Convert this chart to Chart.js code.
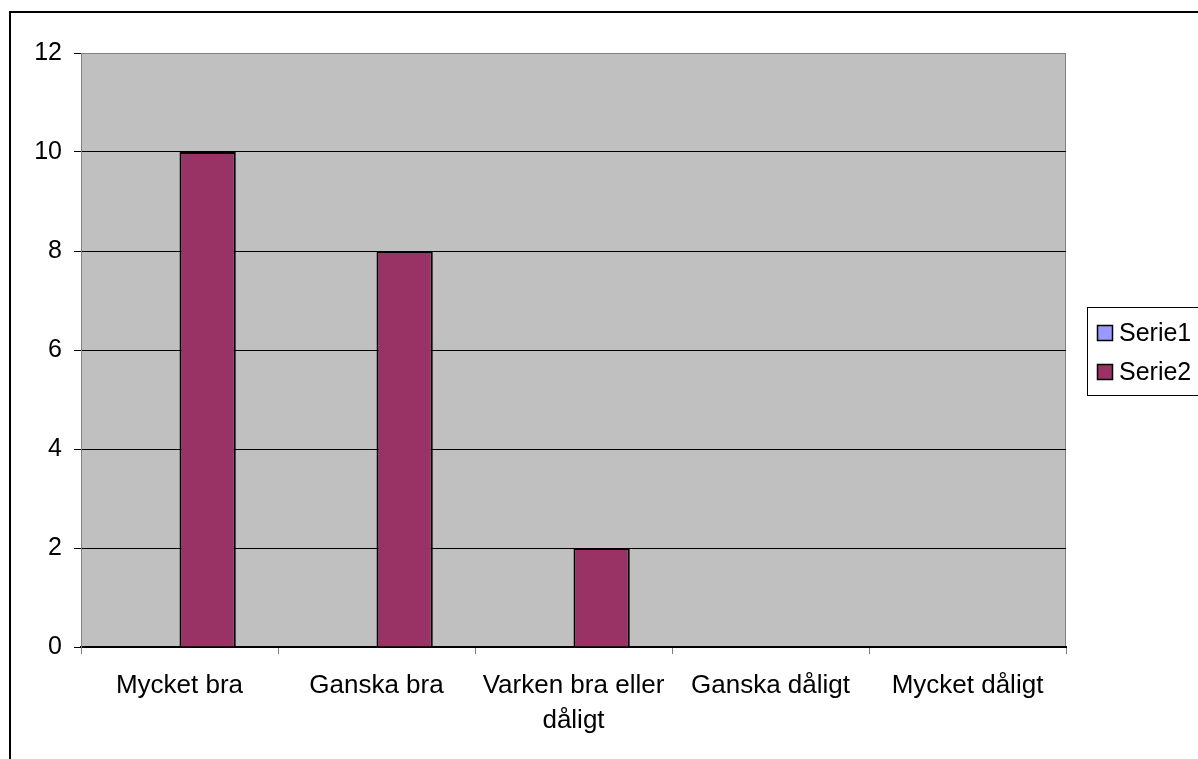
<!DOCTYPE html>
<html lang="sv">
<head>
    <meta charset="UTF-8">
    <title>Diagram</title>
    <script src="https://cdn.jsdelivr.net/npm/chart.js"></script>
    <style>
        body { margin: 0; background: #fff; overflow: hidden; }
        #wrap { position: relative; width: 1198px; height: 759px; }
        #frame {
            position: absolute; left: 9px; top: 11px;
            width: 1300px; height: 900px;
            border: 2px solid #000; box-sizing: border-box;
        }
        canvas { position: absolute; left: 0; top: 0; }
    </style>
</head>
<body>
    <div id="wrap">
        <div id="frame"></div>
        <canvas id="chart" width="1198" height="759"></canvas>
    </div>
    <script>
        // data
        var categories = ['Mycket bra', 'Ganska bra', ['Varken bra eller', 'dåligt'], 'Ganska dåligt', 'Mycket dåligt'];
        var serie1 = [0, 0, 0, 0, 0];
        var serie2 = [10, 8, 2, 0, 0];
        var yTicks = [0, 2, 4, 6, 8, 10, 12];

        var fontFamily = "'Liberation Sans', Arial, sans-serif";

        // grey plot area with grey top/right border
        var plotBg = {
            id: 'plotBg',
            beforeDraw: function(chart) {
                var a = chart.chartArea, c = chart.ctx;
                c.save();
                c.fillStyle = '#C0C0C0';
                c.fillRect(a.left, a.top, a.right - a.left, a.bottom - a.top);
                c.strokeStyle = '#808080';
                c.lineWidth = 1;
                c.beginPath();
                c.moveTo(a.left, a.top + 0.5);
                c.lineTo(a.right - 0.5, a.top + 0.5);
                c.lineTo(a.right - 0.5, a.bottom);
                c.stroke();
                c.restore();
            }
        };

        // legend in a bordered box, like the original
        var boxLegend = {
            id: 'boxLegend',
            afterDraw: function(chart) {
                var c = chart.ctx;
                var x = 1087, y = 307, w = 130, h = 88;
                c.save();
                c.fillStyle = '#fff';
                c.fillRect(x, y, w, h);
                c.strokeStyle = '#000';
                c.lineWidth = 1;
                c.strokeRect(x + 0.5, y + 0.5, w, h);
                c.font = '25px ' + fontFamily;
                c.textBaseline = 'middle';
                chart.data.datasets.forEach(function(ds, i) {
                    var cy = y + 26 + i * 39;
                    c.fillStyle = ds.backgroundColor;
                    c.fillRect(x + 10, cy - 8, 16, 16);
                    c.lineWidth = 1.5;
                    c.strokeRect(x + 10.5, cy - 7.5, 15, 15);
                    c.fillStyle = '#000';
                    c.fillText(ds.label, x + 32, cy + 1);
                });
                c.restore();
            }
        };

        new Chart(document.getElementById('chart'), {
            type: 'bar',
            data: {
                labels: categories,
                datasets: [{
                    label: 'Serie1',
                    data: serie1,
                    backgroundColor: '#9999FF',
                    borderColor: '#000',
                    borderWidth: 0
                }, {
                    label: 'Serie2',
                    data: serie2,
                    backgroundColor: '#993366',
                    borderColor: '#000',
                    borderWidth: 2
                }]
            },
            options: {
                responsive: false,
                animation: false,
                categoryPercentage: 2 / 3.5,
                barPercentage: 1,
                layout: { padding: { top: 53, right: 132, bottom: 0, left: 0 } },
                plugins: {
                    legend: { display: false },
                    tooltip: { enabled: false }
                },
                scales: {
                    x: {
                        afterFit: function(s) { s.height = 112; },
                        grid: {
                            offset: true,
                            drawOnChartArea: false,
                            color: '#808080',
                            tickLength: 7
                        },
                        border: { color: '#000', width: 2 },
                        ticks: {
                            color: '#000',
                            padding: 15,
                            maxRotation: 0,
                            autoSkip: false,
                            font: { family: fontFamily, size: 26, lineHeight: 1.33 }
                        }
                    },
                    y: {
                        min: 0,
                        max: 12,
                        afterFit: function(s) { s.width = 81; },
                        afterBuildTicks: function(s) {
                            s.ticks = yTicks.map(function(v) { return { value: v }; });
                        },
                        grid: {
                            color: function(ctx) {
                                return ctx.tick && ctx.tick.value === 12 ? '#808080' : '#000';
                            },
                            tickColor: '#000',
                            tickLength: 7
                        },
                        border: { color: '#808080' },
                        ticks: {
                            color: '#000',
                            padding: 12,
                            font: { family: fontFamily, size: 25 }
                        }
                    }
                }
            },
            plugins: [plotBg, boxLegend]
        });
    </script>
</body>
</html>
